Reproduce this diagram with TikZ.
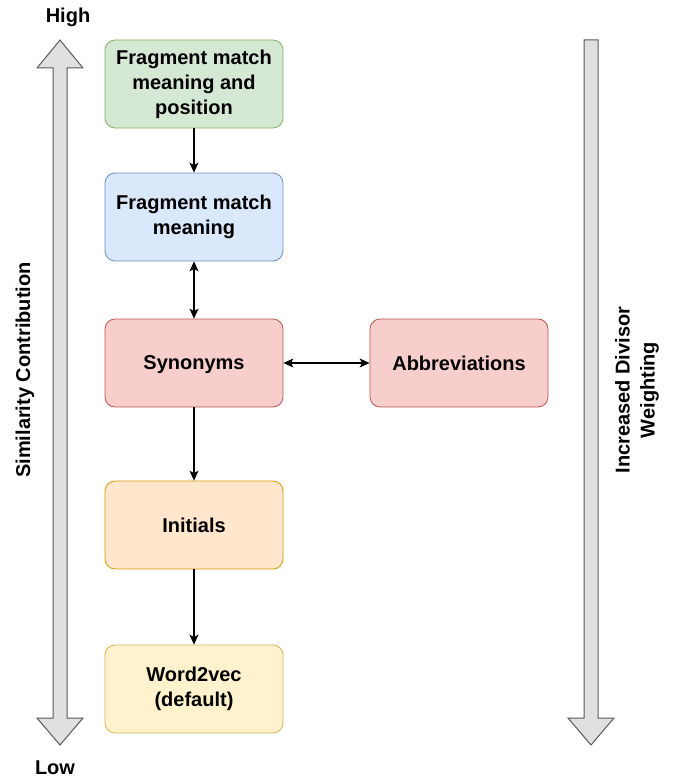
\documentclass[tikz,border=0pt]{standalone}
\usepackage{fontspec}
\setmainfont{Liberation Sans}
\usetikzlibrary{arrows.meta}
\definecolor{gfill}{HTML}{D5E8D4}\definecolor{gdraw}{HTML}{82B366}
\definecolor{bfill}{HTML}{DAE8FC}\definecolor{bdraw}{HTML}{6C8EBF}
\definecolor{rfill}{HTML}{F8CECC}\definecolor{rdraw}{HTML}{B85450}
\definecolor{ofill}{HTML}{FFE6CC}\definecolor{odraw}{HTML}{D79B00}
\definecolor{yfill}{HTML}{FFF2CC}\definecolor{ydraw}{HTML}{D6B656}
\definecolor{afill}{HTML}{E0E0E0}\definecolor{adraw}{HTML}{5A5A5A}
\tikzset{
  box/.style={draw, rounded corners=10pt, minimum width=178pt, minimum height=88pt,
    align=center, font=\fontsize{20}{25}\selectfont\bfseries, line width=0.8pt, inner sep=2pt},
  lbl/.style={font=\fontsize{20}{25}\selectfont\bfseries, align=center, inner sep=0pt},
  conn/.style={-{Stealth[length=10pt,width=9pt,inset=2.5pt]}, line width=1.1pt},
  biconn/.style={{Stealth[length=10pt,width=9pt,inset=2.5pt]}-{Stealth[length=10pt,width=9pt,inset=2.5pt]}, line width=1.1pt},
  blockarrow/.style={fill=afill, draw=adraw, line width=1pt, line join=miter}
}
\begin{document}
\begin{tikzpicture}[x=1pt,y=-1pt]
\useasboundingbox (0,0) rectangle (675,781);
% block arrows
\draw[blockarrow] (60,40) -- (83,68) -- (67,68) -- (67,718) -- (83,718) -- (60,745)
  -- (37,718) -- (53,718) -- (53,68) -- (37,68) -- cycle;
\draw[blockarrow] (584,40) -- (598,40) -- (598,718) -- (614,718) -- (591,745)
  -- (568,718) -- (584,718) -- cycle;
% labels
\node[lbl] (high) at (68,17) {High};
\node[lbl] (low) at (55,768) {Low};
\node[lbl, rotate=90] (sim) at (25,370) {Similarity Contribution};
\node[lbl, rotate=90] (div) at (637,390) {Increased Divisor\\Weighting};
% boxes
\node[box, fill=gfill, draw=gdraw] (fmp) at (194,84) {Fragment match\\meaning and\\position};
\node[box, fill=bfill, draw=bdraw] (fm) at (194,217) {Fragment match\\meaning};
\node[box, fill=rfill, draw=rdraw, text depth=0pt] (syn) at (194,363) {Synonyms};
\node[box, fill=rfill, draw=rdraw, text depth=0pt] (abb) at (459,363) {Abbreviations};
\node[box, fill=ofill, draw=odraw] (ini) at (194,525) {Initials};
\node[box, fill=yfill, draw=ydraw] (w2v) at (194,689) {Word2vec\\(default)};
% connectors
\draw[conn] (fmp) -- (fm);
\draw[biconn] (fm) -- (syn);
\draw[biconn] (syn) -- (abb);
\draw[conn] (syn) -- (ini);
\draw[conn] (ini) -- (w2v);
\end{tikzpicture}
\end{document}
